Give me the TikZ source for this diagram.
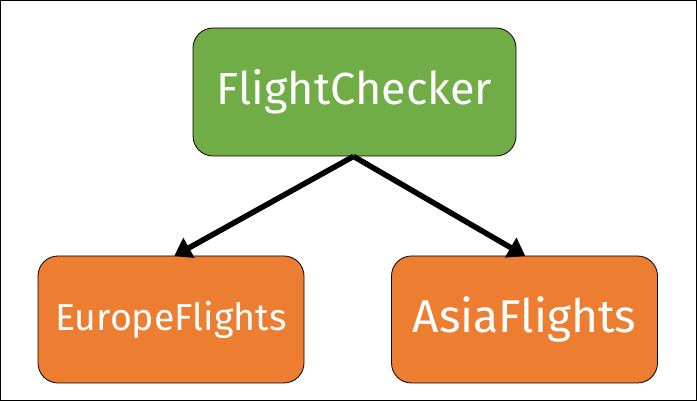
\documentclass[tikz,border=0pt]{standalone}
\usepackage{fontspec}
\setmainfont{Fira Sans}
\usetikzlibrary{arrows.meta}
\definecolor{boxgreen}{HTML}{70AD47}
\definecolor{boxorange}{HTML}{ED7D31}
\begin{document}
\begin{tikzpicture}[x=1pt,y=1pt,
  box/.style={draw=black, line width=0.8pt, rounded corners=20pt, text=white, inner sep=0pt},
  topbox/.style={box, fill=boxgreen, minimum width=323pt, minimum height=128pt, font=\fontsize{45}{52}\selectfont},
  leafbox/.style={box, fill=boxorange, minimum width=266pt, minimum height=127pt},
  conn/.style={line width=5.5pt, -{Triangle[length=17pt,width=22pt]}, shorten >=-1pt}
]
\draw[line width=1pt] (0.5,0.5) rectangle (696.5,400.5);
\useasboundingbox (0,0) rectangle (697,401);
\node[topbox] (fc) at (354.5,309) {FlightChecker};
\node[leafbox, font=\fontsize{37.5}{44}\selectfont] (eu) at (171,81.5) {EuropeFlights};
\node[leafbox, font=\fontsize{46}{52}\selectfont] (as) at (524.5,81.5) {AsiaFlights};
\coordinate (src) at ([xshift=-1pt]fc.south);
\draw[conn] (src) -- ([xshift=4pt]eu.north);
\draw[conn] (src) -- (as.north);
\end{tikzpicture}
\end{document}
